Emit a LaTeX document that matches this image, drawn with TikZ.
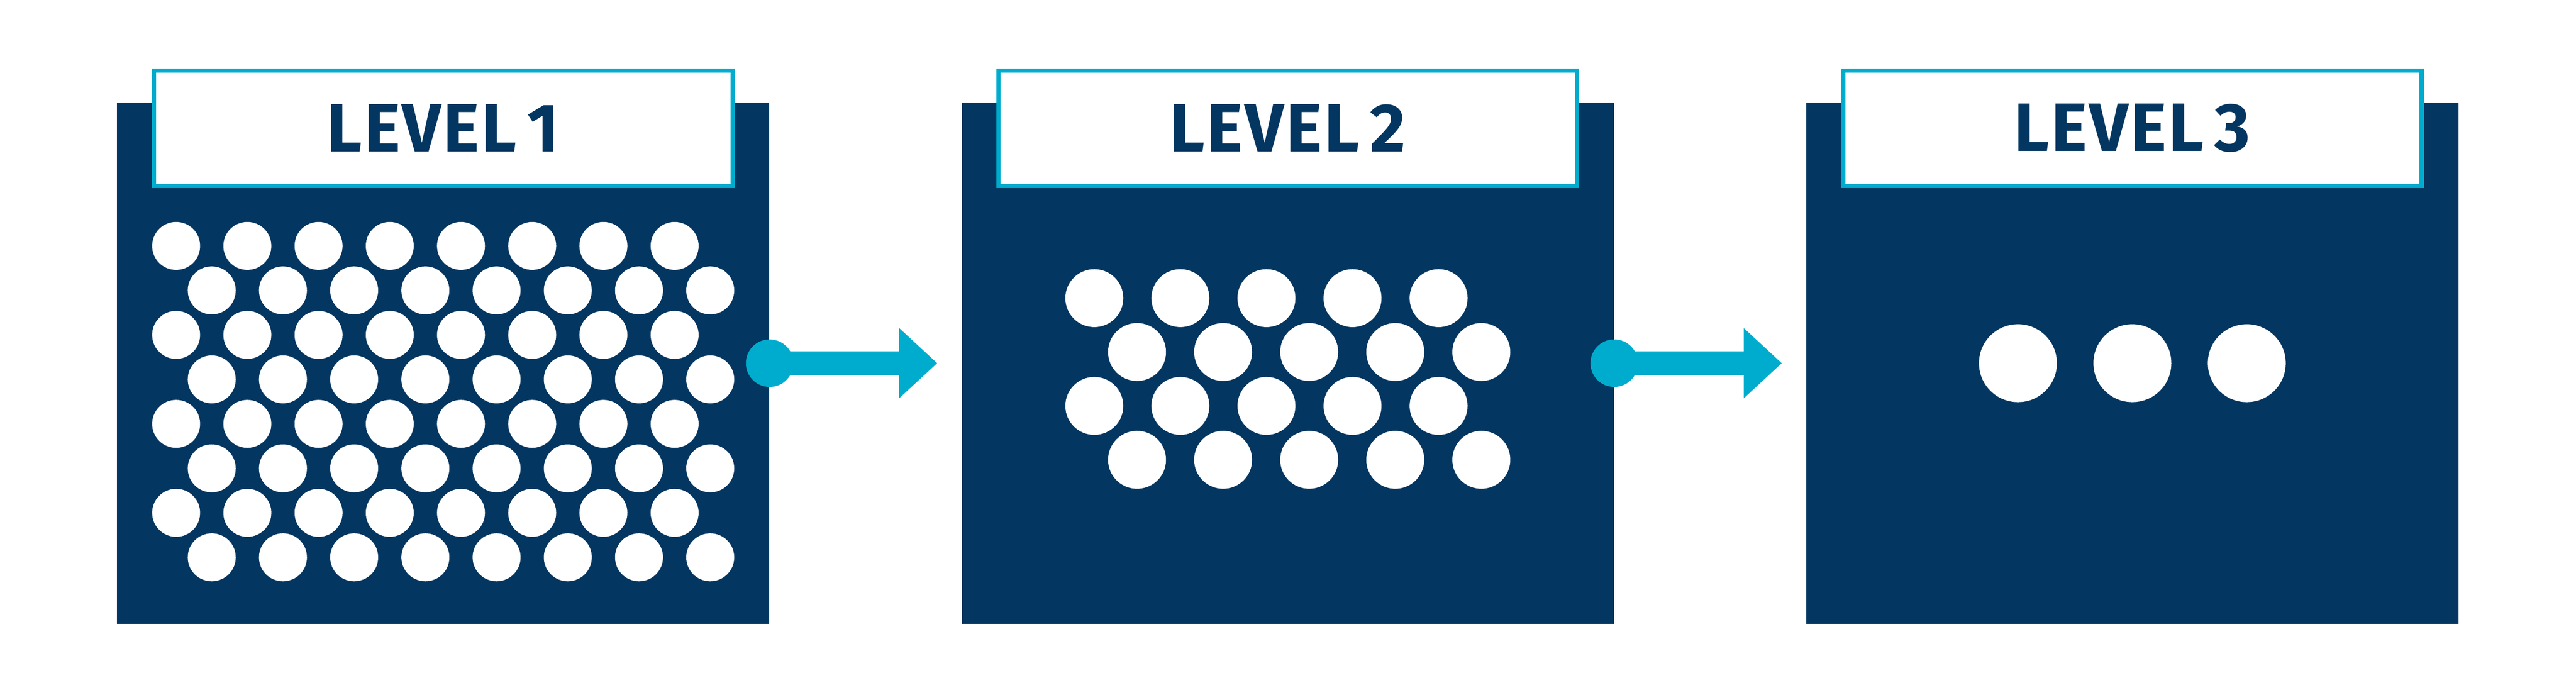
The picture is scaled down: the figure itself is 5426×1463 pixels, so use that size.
\documentclass[tikz,border=0pt]{standalone}
\usepackage{fontspec}
\newfontfamily\levelfont[LetterSpace=3, WordSpace=0.6]{Fira Sans}
\usetikzlibrary{arrows.meta}
\definecolor{navy}{HTML}{033660}
\definecolor{cyanblue}{HTML}{00ACCD}

\begin{document}
\begin{tikzpicture}[x=0.01cm, y=-0.01cm,
    panel/.style={fill=navy, inner sep=0, minimum width=13.73cm, minimum height=10.98cm},
    tag/.style={draw=cyanblue, line width=0.09cm, fill=white, inner sep=0,
        minimum width=12.18cm, minimum height=2.43cm, text=navy,
        font=\levelfont\bfseries\fontsize{41}{41}\selectfont},
    hole/.style={fill=white},
    dot/.style={circle, fill=cyanblue, inner sep=0, minimum size=1cm},
    flow/.style={cyanblue, line width=0.49cm, shorten >=0.51cm,
        -{Triangle[length=0.8cm, width=1.48cm, line width=0pt]}}]
        \useasboundingbox (0, 0) rectangle (5426, 1463);
        \node [panel] (B1) at (933.5, 765) {};
        \node [panel] (B2) at (2712.5, 765) {};
        \node [panel] (B3) at (4491.5, 765) {};
        \node [tag] (T1) at (933.5, 270) {LEVEL 1};
        \node [tag] (T2) at (2712.5, 270) {LEVEL 2};
        \node [tag] (T3) at (4491.5, 270) {LEVEL 3};
        % level 1: 8 rows of 8
        \foreach \r in {0,...,7}
            \foreach \k in {0,...,7}
                \fill [hole] ({371 + 75*mod(\r,2) + 150*\k}, {518 + 93.7*\r}) circle (0.505cm);
        % level 2: 4 rows of 5
        \foreach \r in {0,...,3}
            \foreach \k in {0,...,4}
                \fill [hole] ({2305 + 90*mod(\r,2) + 181.3*\k}, {628 + 113.5*\r}) circle (0.61cm);
        % level 3
        \foreach \k in {-1,0,1}
            \fill [hole] ({4491.5 + 241*\k}, 765) circle (0.82cm);
        \node [dot] (D1) at (B1.east) {};
        \node [dot] (D2) at (B2.east) {};
        \draw [flow] (D1.center) -- (B2.west);
        \draw [flow] (D2.center) -- (B3.west);
\end{tikzpicture}
\end{document}
